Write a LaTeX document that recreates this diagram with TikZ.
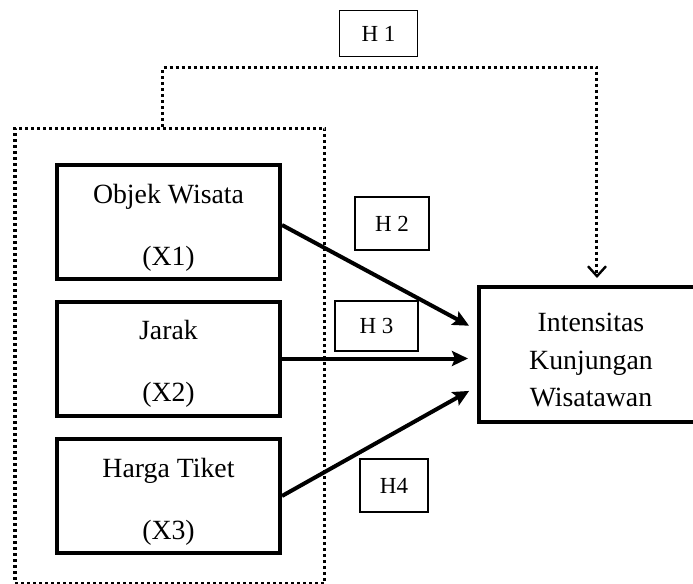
\documentclass[tikz,border=0pt]{standalone}
\usepackage{fontspec}
\setmainfont{Liberation Serif}
\usetikzlibrary{arrows.meta, positioning, calc}

\begin{document}
\begin{tikzpicture}[
    x=0.5pt, y=-0.5pt,
    var/.style={rectangle, draw, line width=2pt, minimum width=111.5pt, minimum height=57pt, align=center, font=\fontsize{13.9}{17}\selectfont},
    hyp/.style={rectangle, draw, line width=0.7pt, inner sep=0pt, font=\fontsize{11.5}{13}\selectfont},
    dots/.style={line width=1.5pt, dash pattern=on 1.5pt off 1.5pt},
    arrow/.style={-{Stealth[length=8pt, width=7.5pt, inset=1.5pt]}, line width=2pt, shorten >=4.5pt}
]
    \useasboundingbox (0,0) rectangle (693,584);

    % variables
    \node[var] (x1) at (168.5,222) {\rule{0pt}{15pt}Objek Wisata\\[14pt](X1)};
    \node[var] (x2) at (168.5,358.5) {\rule{0pt}{15pt}Jarak\\[14pt](X2)};
    \node[var] (x3) at (168.5,496) {\rule{0pt}{15pt}Harga Tiket\\[14pt](X3)};
    % box runs past the right edge of the page
    \node[var, minimum width=118pt, minimum height=67.5pt, font=\fontsize{13.9}{18.7}\selectfont] (dep) at (597,354.5)
        {\rule{0pt}{15pt}\hspace*{-6pt}Intensitas\\\hspace*{-6pt}Kunjungan\\\hspace*{-6pt}Wisatawan};

    % group of X
    \node[rectangle, draw, dots, minimum width=155pt, minimum height=227.5pt] (grp) at (170,355.5) {};

    % hypotheses
    \node[hyp, minimum width=39pt, minimum height=23pt] (h1) at (378.5,33.5) {H 1};
    \node[hyp, minimum width=37pt, minimum height=26.5pt] (h2) at (392,223.5) {H 2};
    \node[hyp, minimum width=41.5pt, minimum height=25pt] (h3) at (376.5,326) {H 3};
    \node[hyp, minimum width=34pt, minimum height=26.5pt] (h4) at (394,485.5) {H4};

    \draw[arrow] ([yshift=-1.5pt]x1.east) -- ([yshift=12.25pt]dep.west);
    \draw[arrow] (x2.east) -- (x2.east -| dep.west);
    \draw[arrow] (x3.east) -- ([yshift=-16pt]dep.west);

    % H1 path
    \coordinate (bend) at (597,67);
    \draw[dots, -{Straight Barb[length=5pt, width=9pt, line width=1.2pt]}, shorten >=3.5pt] ([xshift=-3.5pt]grp.north) |- (bend) -- (dep.north);
\end{tikzpicture}
\end{document}
